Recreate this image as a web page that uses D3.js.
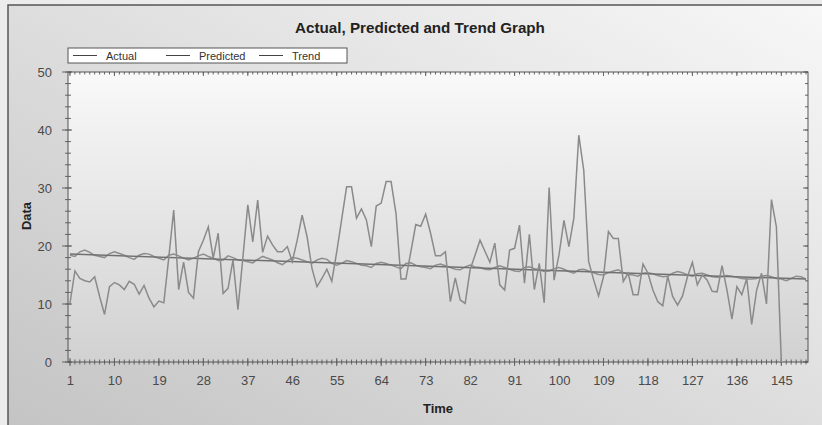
<!DOCTYPE html>
<html>
<head>
<meta charset="utf-8">
<script src="https://cdn.jsdelivr.net/npm/d3@7/dist/d3.min.js"></script>
<style>
body{margin:0;background:#ececec;}
text{font-family:"Liberation Sans",Arial,sans-serif;}
</style>
</head>
<body>
<div id="chart"></div>
<script>
//////////////////////////////////////////////////////////////
////////////////////////// Data //////////////////////////////
//////////////////////////////////////////////////////////////
var actual = [10.1,15.7,14.4,14.0,13.8,14.7,11.3,8.2,13.0,13.7,
  13.3,12.5,13.9,13.4,11.7,13.2,11.0,9.5,10.5,10.2,
  18.0,26.2,12.5,17.2,12.0,11.0,19.0,21.0,23.3,17.9,
  22.2,11.8,12.7,17.6,9.0,18.0,27.1,20.7,27.9,18.9,
  21.7,20.2,19.0,19.0,19.9,17.3,21.0,25.3,21.6,16.1,
  13.0,14.4,16.0,13.9,19.0,24.6,30.2,30.2,24.8,26.4,
  24.5,19.9,26.9,27.4,31.1,31.1,25.6,14.3,14.3,19.0,
  23.7,23.4,25.5,22.2,18.3,18.3,19.0,10.4,14.5,10.7,
  10.1,15.9,18.4,21.0,19.1,17.2,20.5,13.3,12.4,19.3,
  19.6,23.6,13.6,22.0,12.5,17.0,10.2,30.1,14.1,18.5,
  24.4,19.9,24.8,39.1,33.1,17.3,14.2,11.4,14.7,22.5,
  21.3,21.3,13.9,15.3,11.6,11.6,16.9,15.3,12.4,10.4,
  9.7,14.8,11.3,9.8,11.4,14.7,17.2,13.3,15.0,14.1,
  12.2,12.1,16.6,12.4,7.4,13.0,11.6,14.4,6.5,12.4,
  15.3,10.0,28.0,23.3,0]
var predicted = [18.4,18.2,19.0,19.3,18.9,18.4,18.2,18.0,18.7,19.0,
  18.7,18.4,18.0,17.7,18.4,18.7,18.6,18.2,17.9,17.6,
  18.4,18.6,18.3,17.9,17.6,17.9,18.3,18.6,18.2,17.9,
  17.5,17.6,18.3,18.0,17.6,17.5,17.3,17.1,17.7,18.2,
  17.9,17.6,17.1,16.8,17.4,18.0,17.9,17.6,17.3,17.0,
  17.6,17.9,17.7,17.0,16.7,17.0,17.5,17.3,17.0,16.7,
  16.6,16.3,17.0,17.2,17.0,16.7,16.4,16.1,17.0,17.1,
  16.7,16.4,16.3,16.1,16.7,16.9,16.6,16.3,16.0,15.9,
  16.4,16.7,16.4,16.3,16.0,15.9,16.3,16.6,16.3,16.0,
  15.7,15.6,16.3,16.4,16.1,15.9,15.6,15.7,16.1,16.3,
  16.0,15.6,15.3,15.9,16.0,15.7,15.4,15.1,15.0,15.4,
  15.7,15.9,15.4,15.1,15.0,14.8,15.3,15.4,15.2,14.9,
  14.7,14.8,15.3,15.6,15.4,15.0,14.8,15.2,15.3,15.0,
  14.7,14.6,14.7,14.9,14.8,14.6,14.4,14.3,14.3,14.4,
  14.8,14.9,14.7,14.4,14.3,14.0,14.4,14.8,14.7,14.3]
var trendTime = [1,150]
var trendValue = [18.6,14.3]
var xTicks = [1,10,19,28,37,46,55,64,73,82,91,100,109,118,127,136,145]
var yTicks = [0,10,20,30,40,50]
var names = ["Actual","Predicted","Trend"]

var width = 822, height = 425
var pL = 68, pR = 808, pT = 72, pB = 362

var svg = d3.select("#chart").append("svg")
    .attr("width",width)
    .attr("height",height)

var defs = svg.append("defs")
var g1 = defs.append("linearGradient").attr("id","outerBg")
    .attr("x1","0").attr("y1","1").attr("x2","1").attr("y2","0")
g1.append("stop").attr("offset","0%").attr("stop-color","#c4c4c4")
g1.append("stop").attr("offset","100%").attr("stop-color","#f7f7f7")
var g2 = defs.append("linearGradient").attr("id","plotBg")
    .attr("x1","0").attr("y1","0").attr("x2","0").attr("y2","1")
g2.append("stop").attr("offset","0%").attr("stop-color","#f9f9f9")
g2.append("stop").attr("offset","100%").attr("stop-color","#d1d1d1")
defs.append("clipPath").attr("id","clip").append("rect")
    .attr("x",pL).attr("y",pT).attr("width",pR-pL).attr("height",pB-pT+1)

// outer panel
svg.append("rect").attr("x",8).attr("y",5).attr("width",width-8).attr("height",height-5)
    .attr("fill","url(#outerBg)")
svg.append("path").attr("d","M8,"+height+"V5H"+width)
    .attr("fill","none").attr("stroke","#555").attr("stroke-width",1.5)

// plot area
svg.append("rect").attr("x",pL).attr("y",pT).attr("width",pR-pL).attr("height",pB-pT)
    .attr("fill","url(#plotBg)")

//////////////////////////////////////////////////////////////
//////////////////////// Scales //////////////////////////////
//////////////////////////////////////////////////////////////
var x = d3.scaleLinear().domain([0.6,150.4]).range([pL,pR])
var y = d3.scaleLinear().domain([0,50]).range([pB,pT])

// minor ticks, every step on x, every 2 on y
var minorX = d3.range(1,151)
var minorY = d3.range(0,51,2)
var tk = svg.append("g").attr("stroke","#666").attr("stroke-width",1)
tk.selectAll(".mxb").data(minorX).enter().append("line")
    .attr("x1",d=>x(d)).attr("x2",d=>x(d)).attr("y1",pB-2.5).attr("y2",pB+2.5)
tk.selectAll(".mxt").data(minorX).enter().append("line")
    .attr("x1",d=>x(d)).attr("x2",d=>x(d)).attr("y1",pT).attr("y2",pT+2.5)
tk.selectAll(".myl").data(minorY).enter().append("line")
    .attr("y1",d=>y(d)).attr("y2",d=>y(d)).attr("x1",pL-3).attr("x2",pL+3)
tk.selectAll(".myr").data(minorY).enter().append("line")
    .attr("y1",d=>y(d)).attr("y2",d=>y(d)).attr("x1",pR-3).attr("x2",pR)
// major ticks
tk.selectAll(".Mxb").data(xTicks).enter().append("line")
    .attr("x1",d=>x(d)).attr("x2",d=>x(d)).attr("y1",pB-4).attr("y2",pB+4)
tk.selectAll(".Mxt").data(xTicks).enter().append("line")
    .attr("x1",d=>x(d)).attr("x2",d=>x(d)).attr("y1",pT).attr("y2",pT+4)
tk.selectAll(".Myl").data(yTicks).enter().append("line")
    .attr("y1",d=>y(d)).attr("y2",d=>y(d)).attr("x1",pL-6).attr("x2",pL+4)
tk.selectAll(".Myr").data(yTicks).enter().append("line")
    .attr("y1",d=>y(d)).attr("y2",d=>y(d)).attr("x1",pR-5).attr("x2",pR)

svg.append("rect").attr("x",pL).attr("y",pT).attr("width",pR-pL).attr("height",pB-pT)
    .attr("fill","none").attr("stroke","#555").attr("stroke-width",1)

// tick labels via axes
var xAxis = svg.append("g").attr("transform","translate(0,"+pB+")")
    .call(d3.axisBottom(x).tickValues(xTicks).tickSize(0).tickPadding(14).tickFormat(d3.format("d")))
var yAxis = svg.append("g").attr("transform","translate("+pL+",0)")
    .call(d3.axisLeft(y).tickValues(yTicks).tickSize(0).tickPadding(16))
xAxis.select(".domain").remove()
yAxis.select(".domain").remove()
svg.selectAll(".tick text").attr("fill","#4a4a4a").style("font-size","13px")

//////////////////////////////////////////////////////////////
//////////////////////// Lines ///////////////////////////////
//////////////////////////////////////////////////////////////
var line = d3.line().x((d,i)=>x(i+1)).y(d=>y(d))
var lines = svg.append("g").attr("clip-path","url(#clip)").attr("fill","none")
lines.append("path").datum(predicted).attr("d",line)
    .attr("stroke","#8e8e8e").attr("stroke-width",1.5)
lines.append("path").datum(trendValue)
    .attr("d",d3.line().x((d,i)=>x(trendTime[i])).y(d=>y(d)))
    .attr("stroke","#707070").attr("stroke-width",1.5)
lines.append("path").datum(actual).attr("d",line)
    .attr("stroke","#8a8a8a").attr("stroke-width",1.5)

// title and axis titles
svg.append("text").attr("x",420).attr("y",33).attr("text-anchor","middle")
    .style("font-size","15.2px").style("font-weight","bold").attr("fill","#222")
    .text("Actual, Predicted and Trend Graph")
svg.append("text").attr("x",438).attr("y",413).attr("text-anchor","middle")
    .style("font-size","13px").style("font-weight","bold").attr("fill","#222")
    .text("Time")
svg.append("text").attr("transform","translate(31,216) rotate(-90)").attr("text-anchor","middle")
    .style("font-size","13px").style("font-weight","bold").attr("fill","#222")
    .text("Data")

// legend
var leg = svg.append("g")
leg.append("rect").attr("x",68).attr("y",48).attr("width",279).attr("height",15)
    .attr("fill","#fff").attr("stroke","#555")
var legX = [73,166,259]
leg.selectAll(".ll").data(names).enter().append("line")
    .attr("x1",(d,i)=>legX[i]).attr("x2",(d,i)=>legX[i]+24)
    .attr("y1",55.5).attr("y2",55.5).attr("stroke","#444")
leg.selectAll(".lt").data(names).enter().append("text")
    .attr("x",(d,i)=>legX[i]+33).attr("y",59.5)
    .style("font-size","11px").attr("fill","#333")
    .text(d=>d)
</script>
</body>
</html>
